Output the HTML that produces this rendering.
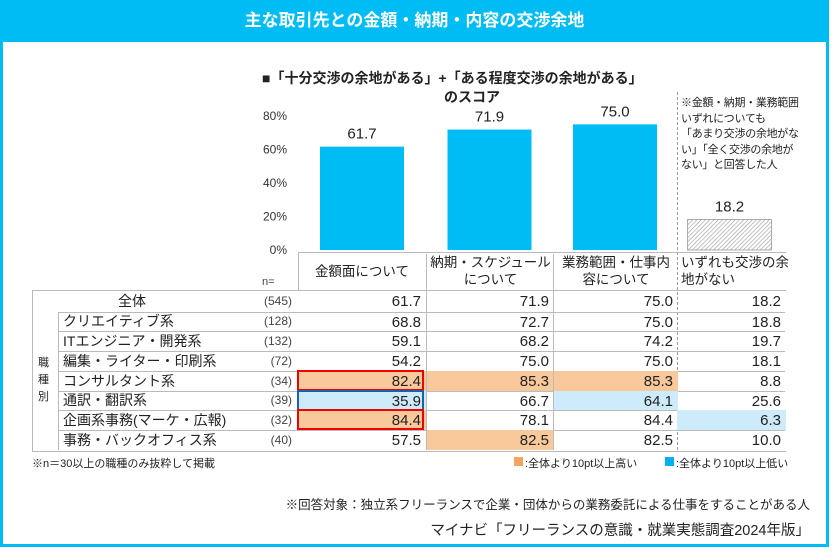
<!DOCTYPE html>
<html><head><meta charset="utf-8">
<style>
body{margin:0;width:832px;height:556px;background:#fff;position:relative;overflow:hidden;font-family:"Liberation Sans","Noto Sans CJK JP",sans-serif;color:#222}
.a{position:absolute;white-space:nowrap}
.frame{left:0;top:0;width:823px;height:544px;border:3px solid #00BCF4;border-top:none}
.band{left:0;top:0;width:829px;height:42px;background:#00BCF4;color:#fff;font-size:17px;font-weight:bold;text-align:center;line-height:42px}
.cell{font-size:15px;text-align:right}
</style></head><body>
<div class="a frame"></div>
<div class="a band">主な取引先との金額・納期・内容の交渉余地</div>
<div class="a" style="left:262px;top:68px;font-size:14px;font-weight:bold">■「十分交渉の余地がある」+「ある程度交渉の余地がある」</div>
<div class="a" style="left:444px;top:87px;font-size:14px;font-weight:bold">のスコア</div>
<div class="a" style="left:681px;top:96px;font-size:11px;line-height:15.5px;letter-spacing:-0.3px">※金額・納期・業務範囲<br>いずれについても<br>「あまり交渉の余地がな<br>い」「全く交渉の余地が<br>ない」と回答した人</div>
<div class="a" style="left:677px;top:92px;height:358px;border-left:1.5px dashed #999"></div>
<svg class="a" id="chart" style="left:0;top:0" width="832" height="300">
<defs><pattern id="hatch" width="3" height="3" patternUnits="userSpaceOnUse" patternTransform="rotate(45)"><rect width="3" height="3" fill="#fff"/><line x1="0" y1="0" x2="0" y2="3" stroke="#999" stroke-width="1.2"/></pattern></defs>
</svg>
<div id="table"></div>
<div class="a" style="left:32px;top:455px;font-size:11px">※n＝30以上の職種のみ抜粋して掲載</div>
<div class="a" style="left:514px;top:457px;width:9px;height:9px;background:#F4A460"></div>
<div class="a" style="left:525px;top:455px;font-size:11px">:全体より10pt以上高い</div>
<div class="a" style="left:665px;top:457px;width:9px;height:9px;background:#00B0F0"></div>
<div class="a" style="left:676px;top:455px;font-size:11px">:全体より10pt以上低い</div>
<div class="a" style="right:22px;top:494px;font-size:12.5px">※回答対象：独立系フリーランスで企業・団体からの業務委託による仕事をすることがある人</div>
<div class="a" style="right:22px;top:519px;font-size:14.5px">マイナビ「フリーランスの意識・就業実態調査2024年版」</div>
<script>
const categories=["金額面について","納期・スケジュールについて","業務範囲・仕事内容について","いずれも交渉の余地がない"];
const barValues=[61.7,71.9,75.0,18.2];
const tickLabels=[0,20,40,60,80];
const rowNames=["全体","クリエイティブ系","ITエンジニア・開発系","編集・ライター・印刷系","コンサルタント系","通訳・翻訳系","企画系事務(マーケ・広報)","事務・バックオフィス系"];
const rowN=[545,128,132,72,34,39,32,40];
const col1=[61.7,68.8,59.1,54.2,82.4,35.9,84.4,57.5];
const col2=[71.9,72.7,68.2,75.0,85.3,66.7,78.1,82.5];
const col3=[75.0,75.0,74.2,75.0,85.3,64.1,84.4,82.5];
const col4=[18.2,18.8,19.7,18.1,8.8,25.6,6.3,10.0];

const svg=document.getElementById('chart');const NS='http://www.w3.org/2000/svg';
const y0=250,py=1.675;const y=v=>y0-v*py;
const colX=[298,426,553,677,786];
tickLabels.forEach(t=>{const tx=document.createElementNS(NS,'text');
tx.setAttribute('x',287);tx.setAttribute('y',y(t)+4);tx.setAttribute('text-anchor','end');tx.setAttribute('font-size','12');tx.setAttribute('fill','#333');tx.textContent=t+'%';


svg.appendChild(tx);});
barValues.forEach((v,i)=>{const cx=(colX[i]+colX[i+1])/2+(i==3?-2:0);const w=84;
const r=document.createElementNS(NS,'rect');r.setAttribute('x',cx-w/2);r.setAttribute('y',y(v));r.setAttribute('width',w);r.setAttribute('height',v*py);
r.setAttribute('fill',i==3?'url(#hatch)':'#00BCF4');if(i==3){r.setAttribute('stroke','#999');r.setAttribute('stroke-width','0.8');}


svg.appendChild(r);
const t=document.createElementNS(NS,'text');t.setAttribute('x',cx);t.setAttribute('y',y(v)-8);t.setAttribute('text-anchor','middle');t.setAttribute('font-size','15');t.setAttribute('fill','#222');t.textContent=v.toFixed(1);


svg.appendChild(t);});

const T=document.getElementById('table');let h='';
const headerLabels=[["金額面について"],["納期・スケジュール","について"],["業務範囲・仕事内","容について"],["いずれも交渉の余","地がない"]];
h+='<div class="a" style="left:298px;top:252px;width:487px;height:38px;border-top:1px solid #bbb;border-left:1px solid #bbb"></div>';
headerLabels.forEach((l,i)=>{const L=colX[i],W=colX[i+1]-colX[i];
h+='<div class="a" style="left:'+L+'px;top:254px;width:'+W+'px;text-align:'+(i==3?'left':'center')+';padding-left:'+(i==3?4:0)+'px;font-size:13.5px;line-height:17px;white-space:normal;'+(i>0&&i<3?'border-left:1px solid #bbb;height:36px':'')+(l.length==1?';padding-top:9px':'')+'">'+l.join('<br>')+'</div>';});
h+='<div class="a" style="left:262px;top:276px;font-size:11px;color:#444">n=</div>';
const rowTop=[290,312,331,351,371,391,410,430,450];
h+='<div class="a" style="left:32px;top:290px;width:753px;height:160px;border:1px solid #bbb;border-right:none"></div>';
h+='<div class="a" style="left:58px;top:312px;height:138px;border-left:1px solid #bbb"></div>';
h+='<div class="a" style="left:38px;top:355px;font-size:11px;line-height:17px;white-space:normal;width:12px">職種別</div>';
for(let r=0;r<8;r++){const t=rowTop[r],hh=rowTop[r+1]-t;
if(r>0) h+='<div class="a" style="left:58px;top:'+t+'px;width:727px;border-top:1px solid #bbb"></div>';
if(r==0) h+='<div class="a" style="left:32px;top:'+t+'px;width:200px;text-align:center;font-size:14px;line-height:'+hh+'px">'+rowNames[r]+'</div>';
else h+='<div class="a" style="left:63px;top:'+t+'px;font-size:14px;line-height:'+hh+'px">'+rowNames[r]+'</div>';
h+='<div class="a" style="left:230px;width:62px;text-align:right;top:'+t+'px;font-size:12px;color:#444;line-height:'+hh+'px">('+rowN[r]+')</div>';
[col1,col2,col3,col4].forEach((c,j)=>{const v=c[r],base=c[0];let bg='transparent';
if(r>0&&j<3&&v-base>=10)bg='#F9C89B';if(r>0&&base-v>=10)bg='#CDEBFA';
const L=colX[j],W=colX[j+1]-colX[j];
h+='<div class="a cell" style="left:'+L+'px;top:'+t+'px;width:'+(W-5)+'px;padding-right:5px;height:'+hh+'px;line-height:'+(hh+2)+'px;background:'+bg+';'+(j>0&&j<3?'border-left:1px solid #bbb':'')+'">'+v.toFixed(1)+'</div>';});}
h+='<div class="a" style="left:297px;top:370px;width:123px;height:17px;border:2px solid #E00"></div>';
h+='<div class="a" style="left:297px;top:390px;width:123px;height:17px;border:2px solid #1F5FA8"></div>';
h+='<div class="a" style="left:297px;top:409px;width:123px;height:17px;border:2px solid #E00"></div>';
T.innerHTML=h;
</script>
</body></html>
